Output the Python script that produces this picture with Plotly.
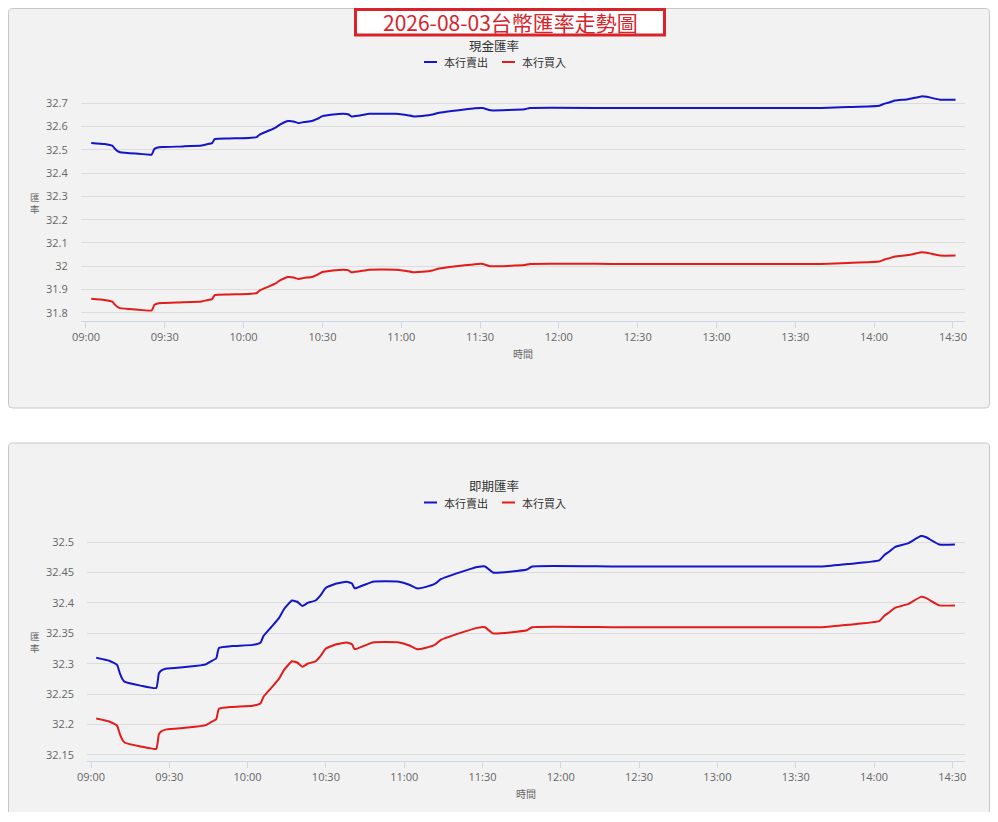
import plotly.graph_objects as go

# Exchange-rate readings through the trading day (shared time axis)
day = "2026-08-03"
times = ["09:02", "09:07", "09:10", "09:11", "09:12", "09:13", "09:19", "09:25", "09:26", "09:27",
         "09:29", "09:37", "09:44", "09:46", "09:48", "09:49", "09:54", "10:02", "10:05", "10:06",
         "10:09", "10:12", "10:14", "10:17", "10:19", "10:21", "10:23", "10:26", "10:28", "10:30",
         "10:34", "10:38", "10:40", "10:41", "10:48", "10:58", "11:02", "11:05", "11:08", "11:12",
         "11:14", "11:24", "11:28", "11:31", "11:34", "11:47", "11:49", "12:20", "12:50", "13:20",
         "13:40", "13:50", "14:02", "14:04", "14:06", "14:08", "14:13", "14:18", "14:20", "14:25",
         "14:31"]

# 現金匯率
cash_sell = [32.530, 32.525, 32.518, 32.505, 32.495, 32.490, 32.484, 32.480, 32.504, 32.509,
             32.512, 32.515, 32.519, 32.524, 32.529, 32.546, 32.549, 32.551, 32.555, 32.565,
             32.580, 32.595, 32.610, 32.624, 32.622, 32.615, 32.620, 32.624, 32.633, 32.645,
             32.652, 32.655, 32.652, 32.644, 32.655, 32.655, 32.650, 32.644, 32.646, 32.652,
             32.659, 32.674, 32.679, 32.680, 32.670, 32.675, 32.680, 32.680, 32.680, 32.680,
             32.680, 32.684, 32.690, 32.699, 32.705, 32.712, 32.718, 32.730, 32.728, 32.716,
             32.716]
cash_buy = [31.860, 31.855, 31.848, 31.835, 31.825, 31.820, 31.814, 31.810, 31.834, 31.839,
            31.842, 31.845, 31.849, 31.854, 31.859, 31.876, 31.879, 31.881, 31.885, 31.895,
            31.910, 31.925, 31.940, 31.954, 31.952, 31.945, 31.950, 31.954, 31.963, 31.975,
            31.982, 31.985, 31.982, 31.974, 31.985, 31.985, 31.980, 31.974, 31.976, 31.982,
            31.989, 32.004, 32.009, 32.010, 32.000, 32.005, 32.010, 32.010, 32.010, 32.010,
            32.010, 32.014, 32.020, 32.029, 32.035, 32.042, 32.048, 32.060, 32.058, 32.046,
            32.046]

# 即期匯率
spot_sell = [32.310, 32.305, 32.298, 32.285, 32.275, 32.270, 32.264, 32.260, 32.284, 32.289,
             32.292, 32.295, 32.299, 32.304, 32.309, 32.326, 32.329, 32.331, 32.335, 32.345,
             32.360, 32.375, 32.390, 32.404, 32.402, 32.395, 32.400, 32.404, 32.413, 32.425,
             32.432, 32.435, 32.432, 32.424, 32.435, 32.435, 32.430, 32.424, 32.426, 32.432,
             32.439, 32.454, 32.459, 32.460, 32.450, 32.455, 32.460, 32.460, 32.460, 32.460,
             32.460, 32.464, 32.470, 32.479, 32.485, 32.492, 32.498, 32.510, 32.508, 32.496,
             32.496]
spot_buy = [32.210, 32.205, 32.198, 32.185, 32.175, 32.170, 32.164, 32.160, 32.184, 32.189,
            32.192, 32.195, 32.199, 32.204, 32.209, 32.226, 32.229, 32.231, 32.235, 32.245,
            32.260, 32.275, 32.290, 32.304, 32.302, 32.295, 32.300, 32.304, 32.313, 32.325,
            32.332, 32.335, 32.332, 32.324, 32.335, 32.335, 32.330, 32.324, 32.326, 32.332,
            32.339, 32.354, 32.359, 32.360, 32.350, 32.355, 32.360, 32.360, 32.360, 32.360,
            32.360, 32.364, 32.370, 32.379, 32.385, 32.392, 32.398, 32.410, 32.408, 32.396,
            32.396]

series_names = ["本行賣出", "本行買入"]
series_colors = ["#1414c8", "#e21b1b"]

x = [f"{day} {t}" for t in times]

# figure size in pixels; the page body adds an 8px margin
W, H = 982, 804
OFF = 8


def fx(sx):
    return (sx - OFF) / W


def fy(sy):
    return 1 - (sy - OFF) / H


def rounded_box(x0, y0, x1, y1, r=4):
    pts = [("M", x0 + r, y0), ("L", x1 - r, y0), ("Q", x1, y0, x1, y0 + r),
           ("L", x1, y1 - r), ("Q", x1, y1, x1 - r, y1), ("L", x0 + r, y1),
           ("Q", x0, y1, x0, y1 - r), ("L", x0, y0 + r), ("Q", x0, y0, x0 + r, y0)]
    out = []
    for p in pts:
        cmd, vals = p[0], p[1:]
        coords = []
        for i in range(0, len(vals), 2):
            coords.append(f"{fx(vals[i]):.5f},{fy(vals[i + 1]):.5f}")
        out.append(cmd + " ".join(coords))
    return " ".join(out) + " Z"


FONT = "Open Sans, Noto Sans CJK TC, sans-serif"
CJK = "Noto Sans CJK TC, Noto Sans, sans-serif"

fig = go.Figure()

for vals, name, color in zip([cash_sell, cash_buy], series_names, series_colors):
    fig.add_trace(go.Scatter(x=x, y=vals, name=name, mode="lines",
                             line=dict(color=color, width=2, shape="spline", smoothing=0.4),
                             xaxis="x", yaxis="y", showlegend=False, hoverinfo="skip"))

for vals, name, color in zip([spot_sell, spot_buy], series_names, series_colors):
    fig.add_trace(go.Scatter(x=x, y=vals, name=name, mode="lines",
                             line=dict(color=color, width=2, shape="spline", smoothing=0.4),
                             xaxis="x2", yaxis="y2", showlegend=False, hoverinfo="skip"))

xaxis_style = dict(
    type="date", tickformat="%H:%M", dtick=30 * 60 * 1000, tick0=f"{day} 09:00",
    showgrid=False, showline=True, linecolor="#ccd6eb", linewidth=1,
    ticks="outside", ticklen=6, tickcolor="#ccd6eb", automargin=False,
    tickfont=dict(family=FONT, size=11, color="#666666"), zeroline=False,
)
yaxis_style = dict(
    showgrid=True, gridcolor="#dcdcdc", gridwidth=1, zeroline=False, showline=False,
    ticks="outside", ticklen=10, tickcolor="rgba(0,0,0,0)", automargin=False,
    tickfont=dict(family=FONT, size=11, color="#666666"),
)

shapes = [
    dict(type="path", path=rounded_box(8.5, 8.5, 989.5, 408), xref="paper", yref="paper",
         fillcolor="#f2f2f2", line=dict(color="#c8c8c8", width=1), layer="below"),
    dict(type="path", path=rounded_box(8.5, 443, 989.5, 830), xref="paper", yref="paper",
         fillcolor="#f2f2f2", line=dict(color="#c8c8c8", width=1), layer="below"),
    # title box
    dict(type="rect", xref="paper", yref="paper", x0=fx(355.5), x1=fx(664.5),
         y0=fy(9.5), y1=fy(35), fillcolor="white", line=dict(color="#d9232a", width=3)),
]

annotations = [
    dict(text="2026-08-03台幣匯率走勢圖", x=fx(510), y=fy(22.5), xref="paper", yref="paper",
         showarrow=False, xanchor="center", yanchor="middle",
         font=dict(family=CJK, size=21, color="#d9232a")),
]

# panel titles, legends and axis titles
panels = [
    dict(title="現金匯率", title_y=45.5, legend_y=62, xtitle=(523, 353), ytitle=(35, 203)),
    dict(title="即期匯率", title_y=485.5, legend_y=502.5, xtitle=(526, 793), ytitle=(35, 642)),
]
for p in panels:
    annotations.append(dict(text=p["title"], x=fx(494), y=fy(p["title_y"]), xref="paper",
                            yref="paper", showarrow=False, xanchor="center", yanchor="middle",
                            font=dict(family=CJK, size=12.5, color="#333333")))
    for sx, name, color in zip([424, 502], series_names, series_colors):
        shapes.append(dict(type="line", xref="paper", yref="paper", x0=fx(sx), x1=fx(sx + 13),
                           y0=fy(p["legend_y"]), y1=fy(p["legend_y"]),
                           line=dict(color=color, width=2)))
        annotations.append(dict(text=name, x=fx(sx + 18), y=fy(p["legend_y"]), xref="paper",
                                yref="paper", showarrow=False, xanchor="left", yanchor="middle",
                                font=dict(family=CJK, size=11, color="#333333")))
    annotations.append(dict(text="時間", x=fx(p["xtitle"][0]), y=fy(p["xtitle"][1]), xref="paper",
                            yref="paper", showarrow=False, xanchor="center", yanchor="middle",
                            font=dict(family=CJK, size=10, color="#666666")))
    annotations.append(dict(text="匯<br>率", x=fx(p["ytitle"][0]), y=fy(p["ytitle"][1]),
                            xref="paper", yref="paper", showarrow=False, xanchor="center",
                            yanchor="middle", align="center", borderpad=0,
                            font=dict(family=CJK, size=9.5, color="#666666")))

fig.update_layout(
    width=W, height=H, autosize=False,
    margin=dict(l=0, r=0, t=0, b=0, autoexpand=False),
    paper_bgcolor="white", plot_bgcolor="rgba(0,0,0,0)",
    showlegend=False, hovermode=False,
    xaxis=dict(xaxis_style, domain=[fx(81), fx(965)], anchor="y",
               range=[f"{day} 08:58:06", f"{day} 14:34:36"]),
    yaxis=dict(yaxis_style, domain=[fy(320.7), fy(88)], anchor="x",
               range=[31.766, 32.766], dtick=0.1, tick0=31.8),
    xaxis2=dict(xaxis_style, domain=[fx(87.3), fx(965)], anchor="y2",
                range=[f"{day} 08:58:35", f"{day} 14:34:52"]),
    yaxis2=dict(yaxis_style, domain=[fy(761), fy(530)], anchor="x2",
                range=[32.140, 32.52], dtick=0.05, tick0=32.15),
    shapes=shapes,
    annotations=annotations,
)

fig.write_html("out.html")
